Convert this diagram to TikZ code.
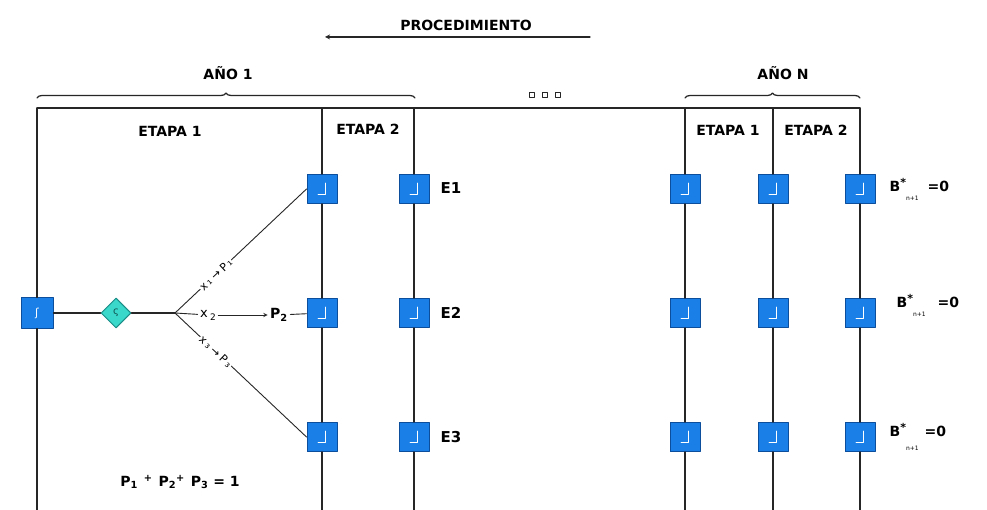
\documentclass[tikz,border=0pt]{standalone}
\usepackage{fontspec}
\setmainfont{DejaVu Sans}
\usetikzlibrary{shapes.geometric,decorations.pathreplacing}
\definecolor{cajaazul}{HTML}{1A80E8}
\definecolor{bordeazul}{HTML}{0D4E9C}
\definecolor{rombocian}{HTML}{3AD8CB}
\definecolor{bordecian}{HTML}{1B8C86}
\begin{document}
\begin{tikzpicture}[x=1pt, y=-1pt, line join=round, line cap=round, >=stealth, line width=1.25pt, draw=black!85,
	etiq/.style={font=\bfseries\fontsize{14}{16}\selectfont},
	cajab/.style={draw=bordeazul, line width=1pt, fill=cajaazul, minimum width=30, minimum height=29, inner sep=0},
	caja/.style={cajab, path picture={\draw[white, line width=0.9] ([xshift=3,yshift=6]path picture bounding box.center) -- ([xshift=3,yshift=-5]path picture bounding box.center) -- ([xshift=-4,yshift=-5]path picture bounding box.center);}},
	rombo/.style={diamond, draw=bordecian, line width=1pt, fill=rombocian, minimum width=30, minimum height=30, inner sep=0, aspect=1},
	rama/.style={sloped, fill=white, inner sep=1pt, font=\fontsize{11}{12}\selectfont}]
	\useasboundingbox[fill=white] (0,0) rectangle (987,510);
	% titulo
	\node[etiq] (proc) at (466,25) {PROCEDIMIENTO};
	\coordinate (flechaA) at (590,37);
	\coordinate (flechaB) at (325,37);
	\draw[->] (flechaA) -- (flechaB);
	% llaves de los años
	\node[etiq] (anio1) at (228,73) {AÑO 1};
	\node[etiq] (anioN) at (783,73) {AÑO N};
	\draw[decorate, decoration={brace, amplitude=5pt}] (37,98) -- (415,98);
	\draw[decorate, decoration={brace, amplitude=5pt}] (685,98) -- (860,98);
	\foreach \x in {532,545,558}
		\node[draw, line width=0.7, minimum size=5, inner sep=0] (pto\x) at (\x,95) {};
	% cabecera
	\coordinate (izq0) at (37,108);
	\coordinate (izq4) at (37,510);
	\coordinate (e0) at (860,108);
	\draw (izq0) -- (e0);
	\node[etiq] (et1) at (170,131) {ETAPA 1};
	\node[etiq] (et2) at (368,129) {ETAPA 2};
	\node[etiq] (et3) at (728,130) {ETAPA 1};
	\node[etiq] (et4) at (816,130) {ETAPA 2};
	% columnas de cajas
	\foreach \c/\x in {a/322,b/414,c/685,d/773,e/860} {
		\coordinate (\c0) at (\x,108);
		\coordinate (\c4) at (\x,510);
		\foreach \r/\y in {1/189,2/313,3/437}
			\node[caja] (\c\r) at (\x,\y) {};
		\draw (\c0) -- (\c1) -- (\c2) -- (\c3) -- (\c4);
	}
	% inicio y ramificacion
	\node[cajab, minimum width=32, minimum height=30, text=white] (ini) at (37,313) {\fontsize{11}{11}\selectfont ʃ};
	\node[rombo] (suerte) at (116,313) {\fontsize{10}{10}\selectfont\color{bordecian!60!black}ς};
	\coordinate (ramif) at (175,313);
	\draw (izq0) -- (ini) -- (izq4);
	\draw (ini) -- (suerte) -- (ramif);
	\draw[line width=0.9pt] (ramif) -- node[rama, pos=0.31] {x\hspace{1.5pt}₁\hspace{3pt}→\hspace{3pt}P\hspace{1.5pt}₁} (a1.west);
	\draw[line width=0.9pt] (ramif) -- node[rama, pos=0.31] {x\hspace{1.5pt}₃\hspace{3pt}→\hspace{3pt}P\hspace{1.5pt}₃} (a3.west);
	\node[font=\fontsize{13}{14}\selectfont, inner sep=2pt] (xdos) at (208,315) {x\,\raisebox{-3pt}{\fontsize{9}{9}\selectfont 2}};
	\node[etiq, inner sep=2pt] (pdos) at (279,315) {P\textsubscript{2}};
	\draw[line width=0.9pt] (ramif) -- (xdos);
	\draw[->, line width=0.9pt] (xdos) -- (pdos);
	\draw[line width=0.9pt] (pdos) -- (a2);
	% estados finales
	\node[etiq, font=\bfseries\fontsize{15}{17}\selectfont] (E1) at (451,188) {E1};
	\node[etiq, font=\bfseries\fontsize{15}{17}\selectfont] (E2) at (451,313) {E2};
	\node[etiq, font=\bfseries\fontsize{15}{17}\selectfont] (E3) at (451,437) {E3};
	\node[etiq, anchor=west, inner sep=0] (B1) at (889,189) {B\raisebox{5pt}{\fontsize{11}{11}\selectfont *}\raisebox{-9pt}{\fontsize{6}{6}\selectfont\mdseries n+1}\hspace{9pt}=0};
	\node[etiq, anchor=west, inner sep=0] (B2) at (896,305) {B\raisebox{5pt}{\fontsize{11}{11}\selectfont *}\raisebox{-9pt}{\fontsize{6}{6}\selectfont\mdseries n+1}\hspace{12pt}=0};
	\node[etiq, anchor=west, inner sep=0] (B3) at (889,437) {B\raisebox{5pt}{\fontsize{11}{11}\selectfont *}\raisebox{-14pt}{\fontsize{6}{6}\selectfont\mdseries n+1}\hspace{6pt}=0};
	% suma de probabilidades
	\node[etiq] (suma) at (180,482) {P\textsubscript{1}\hspace{6pt}\textsuperscript{+}\hspace{6pt}P\textsubscript{2}\textsuperscript{+}\hspace{6pt}P\textsubscript{3} = 1};
\end{tikzpicture}
\end{document}
